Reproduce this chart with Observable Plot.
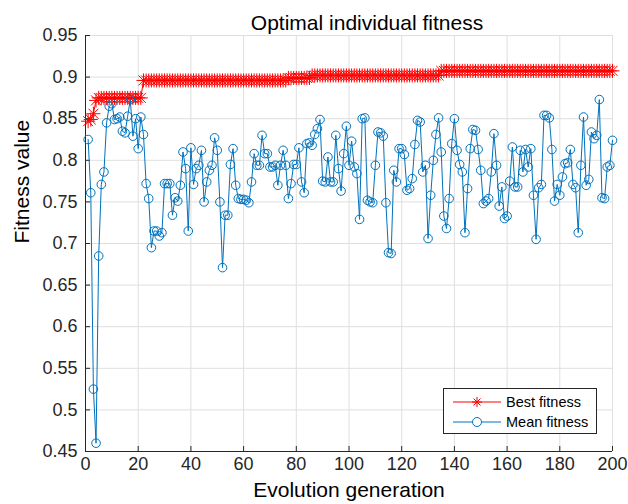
<!DOCTYPE html>
<html>
<head>
<meta charset="utf-8">
<script src="https://cdn.jsdelivr.net/npm/d3@7"></script>
<script src="https://cdn.jsdelivr.net/npm/@observablehq/plot@0.6"></script>
<style>
  html, body { margin: 0; padding: 0; background: #fff; }
  #wrap { position: relative; width: 628px; height: 504px; font-family: "Liberation Sans", Arial, sans-serif; }
  #legend { position: absolute; left: 443px; top: 388px; }
</style>
</head>
<body>
<div id="wrap"></div>
<script>
// ---- data ----
const meanFitness = [
  0.825, 0.761, 0.525, 0.460, 0.685, 0.771, 0.786, 0.845, 0.865, 0.868,
  0.849, 0.850, 0.852, 0.835, 0.833, 0.853, 0.873, 0.829, 0.850, 0.814,
  0.852, 0.831, 0.772, 0.754, 0.695, 0.715, 0.715, 0.709, 0.713, 0.772,
  0.772, 0.772, 0.734, 0.755, 0.751, 0.770, 0.810, 0.790, 0.715, 0.815,
  0.771, 0.790, 0.794, 0.812, 0.750, 0.774, 0.788, 0.794, 0.827, 0.812,
  0.750, 0.671, 0.734, 0.734, 0.795, 0.814, 0.770, 0.754, 0.753, 0.753,
  0.752, 0.749, 0.774, 0.808, 0.794, 0.794, 0.830, 0.808, 0.808, 0.792,
  0.792, 0.794, 0.770, 0.794, 0.812, 0.794, 0.754, 0.772, 0.795, 0.795,
  0.815, 0.774, 0.761, 0.820, 0.821, 0.818, 0.831, 0.838, 0.849, 0.775,
  0.774, 0.804, 0.774, 0.774, 0.830, 0.790, 0.763, 0.808, 0.841, 0.794,
  0.823, 0.792, 0.784, 0.729, 0.850, 0.851, 0.752, 0.750, 0.749, 0.794,
  0.834, 0.833, 0.829, 0.749, 0.689, 0.688, 0.788, 0.774, 0.814, 0.814,
  0.807, 0.764, 0.766, 0.778, 0.819, 0.848, 0.846, 0.786, 0.794, 0.706,
  0.758, 0.800, 0.831, 0.851, 0.810, 0.733, 0.718, 0.754, 0.820, 0.850,
  0.812, 0.795, 0.786, 0.713, 0.766, 0.814, 0.837, 0.836, 0.813, 0.788,
  0.748, 0.751, 0.754, 0.786, 0.832, 0.794, 0.745, 0.768, 0.730, 0.733,
  0.775, 0.816, 0.768, 0.768, 0.812, 0.786, 0.813, 0.792, 0.814, 0.758,
  0.705, 0.767, 0.771, 0.854, 0.854, 0.851, 0.813, 0.751, 0.771, 0.758,
  0.780, 0.796, 0.797, 0.813, 0.771, 0.767, 0.713, 0.794, 0.852, 0.770,
  0.777, 0.834, 0.826, 0.830, 0.873, 0.755, 0.754, 0.792, 0.794, 0.824
];
const bestFitness = [
  0.847, 0.849, 0.856, 0.872, 0.875, 0.875, 0.875, 0.875, 0.875, 0.875,
  0.875, 0.875, 0.875, 0.875, 0.875, 0.875, 0.875, 0.875, 0.875, 0.875,
  0.875, 0.896, 0.896, 0.896, 0.896, 0.896, 0.896, 0.896, 0.896, 0.896,
  0.896, 0.896, 0.896, 0.896, 0.896, 0.896, 0.896, 0.896, 0.896, 0.896,
  0.896, 0.896, 0.896, 0.896, 0.896, 0.896, 0.896, 0.896, 0.896, 0.896,
  0.896, 0.896, 0.896, 0.896, 0.896, 0.896, 0.896, 0.896, 0.896, 0.896,
  0.896, 0.896, 0.896, 0.896, 0.896, 0.896, 0.896, 0.896, 0.896, 0.896,
  0.896, 0.896, 0.896, 0.896, 0.896, 0.896, 0.899, 0.899, 0.899, 0.899,
  0.899, 0.899, 0.899, 0.899, 0.899, 0.902, 0.902, 0.902, 0.902, 0.902,
  0.902, 0.902, 0.902, 0.902, 0.902, 0.902, 0.902, 0.902, 0.902, 0.902,
  0.902, 0.902, 0.902, 0.902, 0.902, 0.902, 0.902, 0.902, 0.902, 0.902,
  0.902, 0.902, 0.902, 0.902, 0.902, 0.902, 0.902, 0.902, 0.902, 0.902,
  0.902, 0.902, 0.902, 0.902, 0.902, 0.902, 0.902, 0.902, 0.902, 0.902,
  0.902, 0.902, 0.902, 0.902, 0.9075, 0.9075, 0.9075, 0.9075, 0.9075, 0.9075,
  0.9075, 0.9075, 0.9075, 0.9075, 0.9075, 0.9075, 0.9075, 0.9075, 0.9075, 0.9075,
  0.9075, 0.9075, 0.9075, 0.9075, 0.9075, 0.9075, 0.9075, 0.9075, 0.9075, 0.9075,
  0.9075, 0.9075, 0.9075, 0.9075, 0.9075, 0.9075, 0.9075, 0.9075, 0.9075, 0.9075,
  0.9075, 0.9075, 0.9075, 0.9075, 0.9075, 0.9075, 0.9075, 0.9075, 0.9075, 0.9075,
  0.9075, 0.9075, 0.9075, 0.9075, 0.9075, 0.9075, 0.9075, 0.9075, 0.9075, 0.9075,
  0.9075, 0.9075, 0.9075, 0.9075, 0.9075, 0.9075, 0.9075, 0.9075, 0.9075, 0.9075
];
const xTicks = [0, 20, 40, 60, 80, 100, 120, 140, 160, 180, 200];
const xTickLabels = ["0", "20", "40", "60", "80", "100", "120", "140", "160", "180", "200"];
const yTicks = [0.45, 0.5, 0.55, 0.6, 0.65, 0.7, 0.75, 0.8, 0.85, 0.9, 0.95];
const yTickLabels = ["0.45", "0.5", "0.55", "0.6", "0.65", "0.7", "0.75", "0.8", "0.85", "0.9", "0.95"];
const seriesNames = ["Best fitness", "Mean fitness"];
const titleText = "Optimal individual fitness";
const xLabel = "Evolution generation";
const yLabel = "Fitness value";

// ---- table built from the arrays ----
const data = meanFitness.map((m, i) => ({gen: i + 1, mean: m, best: bestFitness[i]}));

const W = 628, H = 504, mL = 85, mR = 16, mT = 35, mB = 53;
const innerW = W - mL - mR, innerH = H - mT - mB;
const axisColor = "#262626", gridColor = "#dfdfdf";
const red = "#ff0000", blue = "#0072bd";
const font = "Liberation Sans, Arial, sans-serif";

const chart = Plot.plot({
  width: W, height: H,
  marginLeft: mL, marginRight: mR, marginTop: mT, marginBottom: mB,
  style: {fontFamily: font, fontSize: "18px", color: axisColor, background: "white", overflow: "visible"},
  x: {domain: [0, 200], ticks: xTicks, label: null},
  y: {domain: [0.45, 0.95], ticks: yTicks, label: null},
  marks: [
    Plot.gridX(xTicks, {stroke: gridColor, strokeOpacity: 1}),
    Plot.gridY(yTicks, {stroke: gridColor, strokeOpacity: 1}),
    Plot.axisX(xTicks, {tickSize: 0, tickPadding: 6, fontSize: 18, fill: axisColor,
      tickFormat: d => xTickLabels[xTicks.indexOf(d)]}),
    Plot.axisY(yTicks, {tickSize: 0, tickPadding: 8, fontSize: 18, fill: axisColor,
      tickFormat: d => yTickLabels[yTicks.indexOf(d)]}),
    Plot.ruleY(yTicks, {y: d => d, insetRight: innerW - 5, stroke: axisColor}),
    Plot.ruleX(xTicks, {x: d => d, insetTop: innerH - 5, stroke: axisColor}),
    Plot.ruleX([0], {stroke: axisColor}),
    Plot.ruleY([0.45], {stroke: axisColor}),
    Plot.line(data, {x: "gen", y: "best", stroke: red, strokeWidth: 1}),
    Plot.dot(data, {x: "gen", y: "best", symbol: "plus", r: 4.6, stroke: red, fill: "none", strokeWidth: 1}),
    Plot.dot(data, {x: "gen", y: "best", symbol: "times", r: 4.6, stroke: red, fill: "none", strokeWidth: 1}),
    Plot.line(data, {x: "gen", y: "mean", stroke: blue, strokeWidth: 1}),
    Plot.dot(data, {x: "gen", y: "mean", r: 4.3, stroke: blue, fill: "none", strokeWidth: 1}),
    Plot.text([titleText], {frameAnchor: "top", dx: 18, dy: -20, fontSize: 21, fill: "#000"}),
    Plot.text([xLabel], {frameAnchor: "bottom", dy: 45, fontSize: 21, fill: "#000"}),
    Plot.text([yLabel], {frameAnchor: "left", dx: -63, rotate: -90, fontSize: 21, fill: "#000"})
  ]
});
const wrap = document.getElementById("wrap");
wrap.appendChild(chart);

// ---- legend (overlay) ----
const ns = "http://www.w3.org/2000/svg";
const lg = document.createElementNS(ns, "svg");
lg.setAttribute("id", "legend");
lg.setAttribute("width", 154);
lg.setAttribute("height", 46);
lg.style.fontFamily = font;
const colors = [red, blue];
let s = `<rect x="0.5" y="0.5" width="153" height="45" fill="white" stroke="${axisColor}" stroke-width="1"/>`;
seriesNames.forEach((name, i) => {
  const y = 14 + i * 20;
  s += `<line x1="10" x2="58" y1="${y}" y2="${y}" stroke="${colors[i]}" stroke-width="1"/>`;
  if (i === 0) {
    s += `<path d="M34,${y - 5}V${y + 5}M29,${y}H39M30.5,${y - 3.5}L37.5,${y + 3.5}M30.5,${y + 3.5}L37.5,${y - 3.5}" stroke="${red}" fill="none"/>`;
  } else {
    s += `<circle cx="34" cy="${y}" r="4.5" stroke="${blue}" fill="white"/>`;
  }
  s += `<text x="63" y="${y}" dy="0.35em" font-size="14.5" fill="#000">${name}</text>`;
});
lg.innerHTML = s;
wrap.appendChild(lg);
</script>
</body>
</html>
